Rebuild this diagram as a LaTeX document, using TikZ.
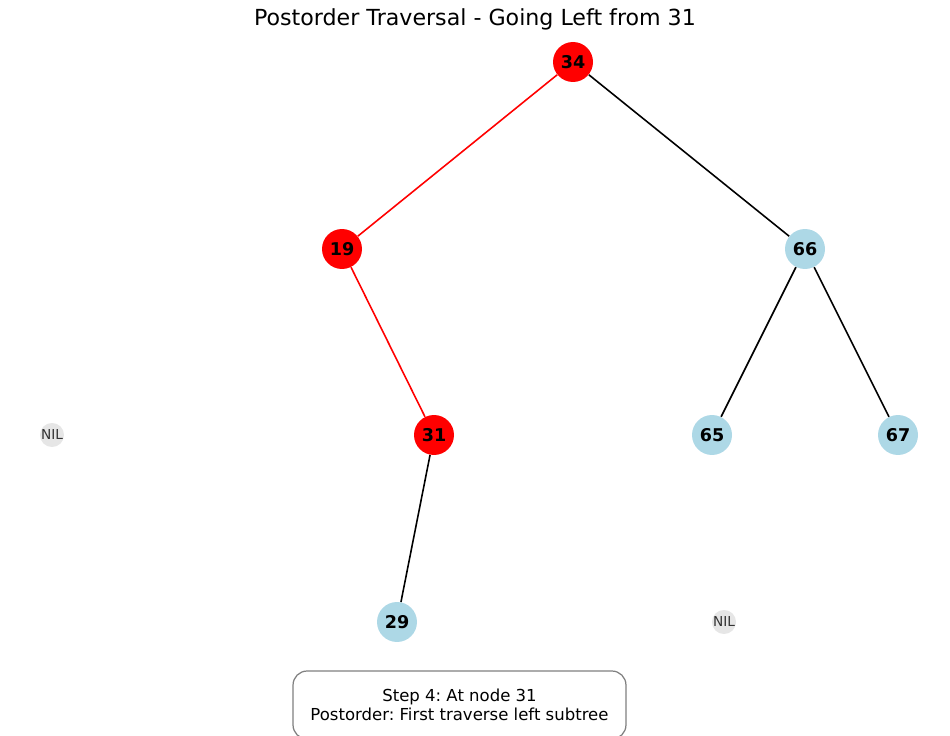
\documentclass[tikz,border=0pt]{standalone}
\usepackage{fontspec}
\setmainfont{DejaVu Sans}
\usepackage{xcolor}
\usetikzlibrary{arrows}
\definecolor{nodeblue}{HTML}{ADD8E6}
\definecolor{nilgray}{HTML}{E6E6E6}
\definecolor{niltext}{HTML}{333333}
\frenchspacing

\begin{document}
\begin{tikzpicture}[x=0.02cm,y=-0.02cm,
  tnode/.style={circle,inner sep=0pt,minimum size=0.8cm,font=\fontsize{10}{12}\selectfont\bfseries},
  nil/.style={circle,inner sep=0pt,minimum size=0.48cm,fill=nilgray,text=niltext,font=\fontsize{7.8}{9}\selectfont},
  edge/.style={line width=0.9pt}]
\clip (0,0) rectangle (950,736);

\node (title) at (475,19) {\fontsize{12.6}{15}\selectfont Postorder Traversal - Going Left from 31};

%\draw (0,0) rectangle (950,736);

\node[tnode,fill=red] (n34) at (573,62) {34};
\node[tnode,fill=red] (n19) at (342,249) {19};
\node[tnode,fill=nodeblue] (n66) at (805,249) {66};
\node[tnode,fill=red] (n31) at (434,435) {31};
\node[tnode,fill=nodeblue] (n65) at (712,435) {65};
\node[tnode,fill=nodeblue] (n67) at (898,435) {67};
\node[tnode,fill=nodeblue] (n29) at (397,622) {29};

\node[nil] (nil1) at (52,435) {NIL};
\node[nil] (nil2) at (724,622) {NIL};

\draw[edge,red] (n34) -- (n19);
\draw[edge,red] (n19) -- (n31);
\draw[edge] (n34) -- (n66);
\draw[edge] (n66) -- (n65);
\draw[edge] (n66) -- (n67);
\draw[edge] (n31) -- (n29);

\node[draw=gray,line width=0.7pt,rounded corners=8pt,fill=white,minimum width=6.66cm,minimum height=1.36cm,align=center,font=\fontsize{9.4}{11}\selectfont] (info) at (459.5,705) {Step 4: At node 31\\Postorder: First traverse left subtree};

\end{tikzpicture}
\end{document}
